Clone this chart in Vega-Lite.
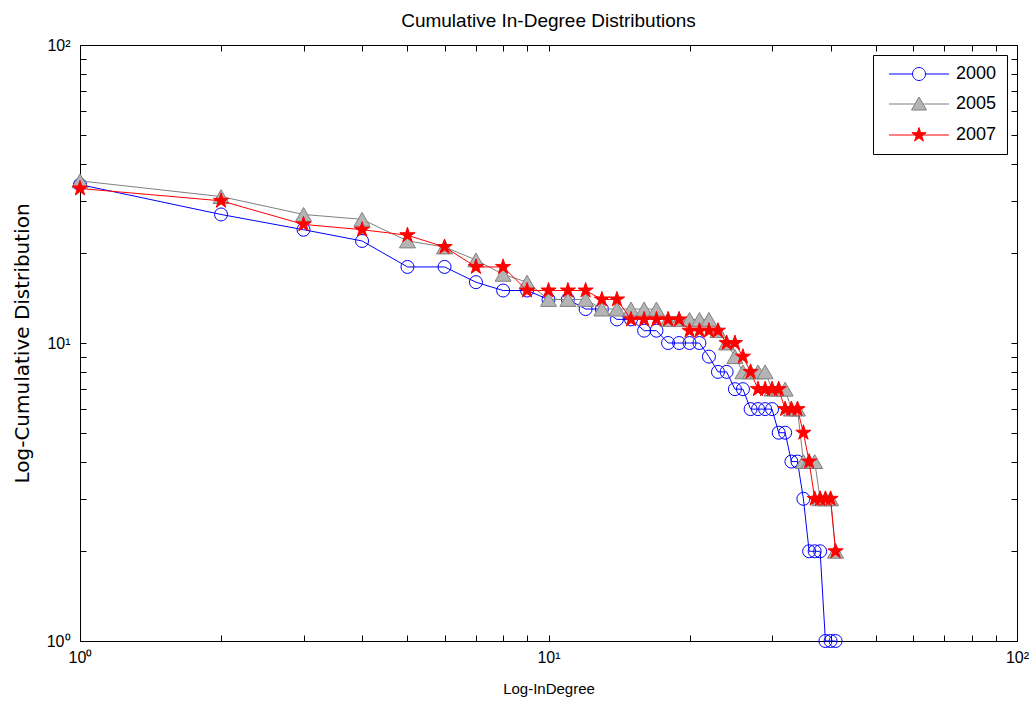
{
  "$schema": "https://vega.github.io/schema/vega-lite/v6.json",
  "autosize": "none",
  "width": 937,
  "height": 596,
  "padding": {"left": 80, "top": 45, "right": 15, "bottom": 70},
  "background": "white",
  "title": {"text": "Cumulative In-Degree Distributions", "fontSize": 19, "fontWeight": "normal", "font": "Liberation Sans", "offset": 6, "color": "black"},
  "config": {
    "font": "Liberation Sans",
    "view": {"stroke": "black", "strokeWidth": 1},
    "axis": {"grid": false, "domainColor": "black", "tickColor": "black", "labelColor": "black", "titleColor": "black", "labelFontSize": 16, "titleFontSize": 15, "titleFontWeight": "normal", "labelFont": "Liberation Sans", "titleFont": "Liberation Sans"}
  },
  "datasets": {
    "d": [
      {"series": "2000", "x": 1, "y": 34}, {"series": "2000", "x": 2, "y": 27}, {"series": "2000", "x": 3, "y": 24}, {"series": "2000", "x": 4, "y": 22},
      {"series": "2000", "x": 5, "y": 18}, {"series": "2000", "x": 6, "y": 18}, {"series": "2000", "x": 7, "y": 16}, {"series": "2000", "x": 8, "y": 15},
      {"series": "2000", "x": 9, "y": 15}, {"series": "2000", "x": 10, "y": 14}, {"series": "2000", "x": 11, "y": 14}, {"series": "2000", "x": 12, "y": 13},
      {"series": "2000", "x": 13, "y": 13}, {"series": "2000", "x": 14, "y": 12}, {"series": "2000", "x": 15, "y": 12}, {"series": "2000", "x": 16, "y": 11},
      {"series": "2000", "x": 17, "y": 11}, {"series": "2000", "x": 18, "y": 10}, {"series": "2000", "x": 19, "y": 10}, {"series": "2000", "x": 20, "y": 10},
      {"series": "2000", "x": 21, "y": 10}, {"series": "2000", "x": 22, "y": 9}, {"series": "2000", "x": 23, "y": 8}, {"series": "2000", "x": 24, "y": 8},
      {"series": "2000", "x": 25, "y": 7}, {"series": "2000", "x": 26, "y": 7}, {"series": "2000", "x": 27, "y": 6}, {"series": "2000", "x": 28, "y": 6},
      {"series": "2000", "x": 29, "y": 6}, {"series": "2000", "x": 30, "y": 6}, {"series": "2000", "x": 31, "y": 5}, {"series": "2000", "x": 32, "y": 5},
      {"series": "2000", "x": 33, "y": 4}, {"series": "2000", "x": 34, "y": 4}, {"series": "2000", "x": 35, "y": 3}, {"series": "2000", "x": 36, "y": 2},
      {"series": "2000", "x": 37, "y": 2}, {"series": "2000", "x": 38, "y": 2}, {"series": "2000", "x": 39, "y": 1}, {"series": "2000", "x": 40, "y": 1},
      {"series": "2000", "x": 41, "y": 1},
      {"series": "2005", "x": 1, "y": 35}, {"series": "2005", "x": 2, "y": 31}, {"series": "2005", "x": 3, "y": 27}, {"series": "2005", "x": 4, "y": 26},
      {"series": "2005", "x": 5, "y": 22}, {"series": "2005", "x": 6, "y": 21}, {"series": "2005", "x": 7, "y": 19}, {"series": "2005", "x": 8, "y": 17},
      {"series": "2005", "x": 9, "y": 16}, {"series": "2005", "x": 10, "y": 14}, {"series": "2005", "x": 11, "y": 14}, {"series": "2005", "x": 12, "y": 14},
      {"series": "2005", "x": 13, "y": 13}, {"series": "2005", "x": 14, "y": 13}, {"series": "2005", "x": 15, "y": 13}, {"series": "2005", "x": 16, "y": 13},
      {"series": "2005", "x": 17, "y": 13}, {"series": "2005", "x": 18, "y": 12}, {"series": "2005", "x": 19, "y": 12}, {"series": "2005", "x": 20, "y": 12},
      {"series": "2005", "x": 21, "y": 12}, {"series": "2005", "x": 22, "y": 12}, {"series": "2005", "x": 23, "y": 11}, {"series": "2005", "x": 24, "y": 10},
      {"series": "2005", "x": 25, "y": 9}, {"series": "2005", "x": 26, "y": 8}, {"series": "2005", "x": 27, "y": 8}, {"series": "2005", "x": 28, "y": 8},
      {"series": "2005", "x": 29, "y": 8}, {"series": "2005", "x": 30, "y": 7}, {"series": "2005", "x": 31, "y": 7}, {"series": "2005", "x": 32, "y": 7},
      {"series": "2005", "x": 33, "y": 6}, {"series": "2005", "x": 34, "y": 6}, {"series": "2005", "x": 35, "y": 4}, {"series": "2005", "x": 36, "y": 4},
      {"series": "2005", "x": 37, "y": 4}, {"series": "2005", "x": 38, "y": 3}, {"series": "2005", "x": 39, "y": 3}, {"series": "2005", "x": 40, "y": 3},
      {"series": "2005", "x": 41, "y": 2},
      {"series": "2007", "x": 1, "y": 33}, {"series": "2007", "x": 2, "y": 30}, {"series": "2007", "x": 3, "y": 25}, {"series": "2007", "x": 4, "y": 24},
      {"series": "2007", "x": 5, "y": 23}, {"series": "2007", "x": 6, "y": 21}, {"series": "2007", "x": 7, "y": 18}, {"series": "2007", "x": 8, "y": 18},
      {"series": "2007", "x": 9, "y": 15}, {"series": "2007", "x": 10, "y": 15}, {"series": "2007", "x": 11, "y": 15}, {"series": "2007", "x": 12, "y": 15},
      {"series": "2007", "x": 13, "y": 14}, {"series": "2007", "x": 14, "y": 14}, {"series": "2007", "x": 15, "y": 12}, {"series": "2007", "x": 16, "y": 12},
      {"series": "2007", "x": 17, "y": 12}, {"series": "2007", "x": 18, "y": 12}, {"series": "2007", "x": 19, "y": 12}, {"series": "2007", "x": 20, "y": 11},
      {"series": "2007", "x": 21, "y": 11}, {"series": "2007", "x": 22, "y": 11}, {"series": "2007", "x": 23, "y": 11}, {"series": "2007", "x": 24, "y": 10},
      {"series": "2007", "x": 25, "y": 10}, {"series": "2007", "x": 26, "y": 9}, {"series": "2007", "x": 27, "y": 8}, {"series": "2007", "x": 28, "y": 7},
      {"series": "2007", "x": 29, "y": 7}, {"series": "2007", "x": 30, "y": 7}, {"series": "2007", "x": 31, "y": 7}, {"series": "2007", "x": 32, "y": 6},
      {"series": "2007", "x": 33, "y": 6}, {"series": "2007", "x": 34, "y": 6}, {"series": "2007", "x": 35, "y": 5}, {"series": "2007", "x": 36, "y": 4},
      {"series": "2007", "x": 37, "y": 3}, {"series": "2007", "x": 38, "y": 3}, {"series": "2007", "x": 39, "y": 3}, {"series": "2007", "x": 40, "y": 3},
      {"series": "2007", "x": 41, "y": 2}
    ]
  },
  "data": {"name": "d"},
  "resolve": {"axis": {"x": "independent", "y": "independent"}},
  "layer": [
    {
      "transform": [{"filter": "datum.series == '2000'"}],
      "mark": {"type": "line", "strokeWidth": 1},
      "encoding": {
        "x": {"field": "x", "type": "quantitative", "scale": {"type": "log", "domain": [1, 100], "nice": false},
          "axis": {"orient": "bottom", "title": "Log-InDegree", "values": [1,2,3,4,5,6,7,8,9,10,20,30,40,50,60,70,80,90,100], "labelExpr": "datum.value == 1 ? '10⁰' : datum.value == 10 ? '10¹' : datum.value == 100 ? '10²' : ''", "tickSize": -6, "labelPadding": 14, "titlePadding": 16, "labelFlush": false}},
        "y": {"field": "y", "type": "quantitative", "scale": {"type": "log", "domain": [1, 100], "nice": false},
          "axis": {"orient": "left", "title": "Log-Cumulative Distribution", "titleFont": "DejaVu Sans", "titleFontSize": 20, "values": [1,2,3,4,5,6,7,8,9,10,20,30,40,50,60,70,80,90,100], "labelExpr": "datum.value == 1 ? '10⁰' : datum.value == 10 ? '10¹' : datum.value == 100 ? '10²' : ''", "tickSize": -6, "labelPadding": 16, "titlePadding": 14, "labelFlush": false}},
        "color": {"field": "series", "type": "nominal", "scale": {"domain": ["2000", "2005", "2007"], "range": ["#0000ff", "#808080", "#ff0000"]},
          "legend": {"title": null, "orient": "top-right", "offset": 10, "padding": 10, "strokeColor": "black", "fillColor": "white", "labelFontSize": 18, "labelFont": "Liberation Sans", "labelColor": "black", "symbolSize": 100, "labelOffset": 55, "rowPadding": 12,
            "encode": {"symbols": {"update": {
              "shape": {"signal": "datum.value == '2000' ? 'M-0.6,0H4.1M6.7,0H11.4M6.7,0A1.3,1.3 0 1,1 4.1,0A1.3,1.3 0 1,1 6.7,0Z' : datum.value == '2005' ? 'M-0.6,0H4.6M6.2,0H11.4M5.4,-1.4L6.9,1.2L3.9,1.2Z' : 'M-0.6,0H11.4M5.4,-1.5L5.737,-0.464L6.827,-0.464L5.945,0.177L6.282,1.214L5.4,0.573L4.518,1.214L4.855,0.177L3.974,-0.464L5.063,-0.464Z'"},
              "fill": {"signal": "datum.value == '2000' ? 'transparent' : datum.value == '2005' ? '#b4b4b4' : '#ff0000'"},
              "stroke": {"signal": "datum.value == '2000' ? '#0000ff' : datum.value == '2005' ? '#808080' : '#ff0000'"},
              "strokeWidth": {"value": 1},
              "opacity": {"value": 1}
            }}}}}
      }
    },
    {
      "transform": [{"filter": "datum.series == '2000'"}],
      "mark": {"type": "point", "shape": "circle", "size": 169, "filled": false, "stroke": "#0000ff", "strokeWidth": 1, "opacity": 1},
      "encoding": {
        "x": {"field": "x", "type": "quantitative", "axis": {"orient": "top", "title": null, "values": [1,2,3,4,5,6,7,8,9,10,20,30,40,50,60,70,80,90,100], "labels": false, "tickSize": -6}},
        "y": {"field": "y", "type": "quantitative", "axis": {"orient": "right", "title": null, "values": [1,2,3,4,5,6,7,8,9,10,20,30,40,50,60,70,80,90,100], "labels": false, "tickSize": -6}}
      }
    },
    {
      "transform": [{"filter": "datum.series == '2005'"}],
      "mark": {"type": "line", "strokeWidth": 1},
      "encoding": {
        "x": {"field": "x", "type": "quantitative", "axis": null},
        "y": {"field": "y", "type": "quantitative", "axis": null},
        "color": {"field": "series", "type": "nominal"}
      }
    },
    {
      "transform": [{"filter": "datum.series == '2005'"}],
      "mark": {"type": "point", "shape": "triangle-up", "size": 256, "filled": true, "fill": "#b4b4b4", "stroke": "#808080", "strokeWidth": 1, "opacity": 1},
      "encoding": {
        "x": {"field": "x", "type": "quantitative", "axis": null},
        "y": {"field": "y", "type": "quantitative", "axis": null}
      }
    },
    {
      "transform": [{"filter": "datum.series == '2007'"}],
      "mark": {"type": "line", "strokeWidth": 1},
      "encoding": {
        "x": {"field": "x", "type": "quantitative", "axis": null},
        "y": {"field": "y", "type": "quantitative", "axis": null},
        "color": {"field": "series", "type": "nominal"}
      }
    },
    {
      "transform": [{"filter": "datum.series == '2007'"}],
      "mark": {"type": "point", "shape": "M0,-1L0.2245,-0.309L0.951,-0.309L0.363,0.118L0.588,0.809L0,0.382L-0.588,0.809L-0.363,0.118L-0.951,-0.309L-0.2245,-0.309Z", "size": 256, "filled": true, "fill": "#ff0000", "stroke": "#ff0000", "strokeWidth": 1, "opacity": 1},
      "encoding": {
        "x": {"field": "x", "type": "quantitative", "axis": null},
        "y": {"field": "y", "type": "quantitative", "axis": null}
      }
    }
  ]
}
